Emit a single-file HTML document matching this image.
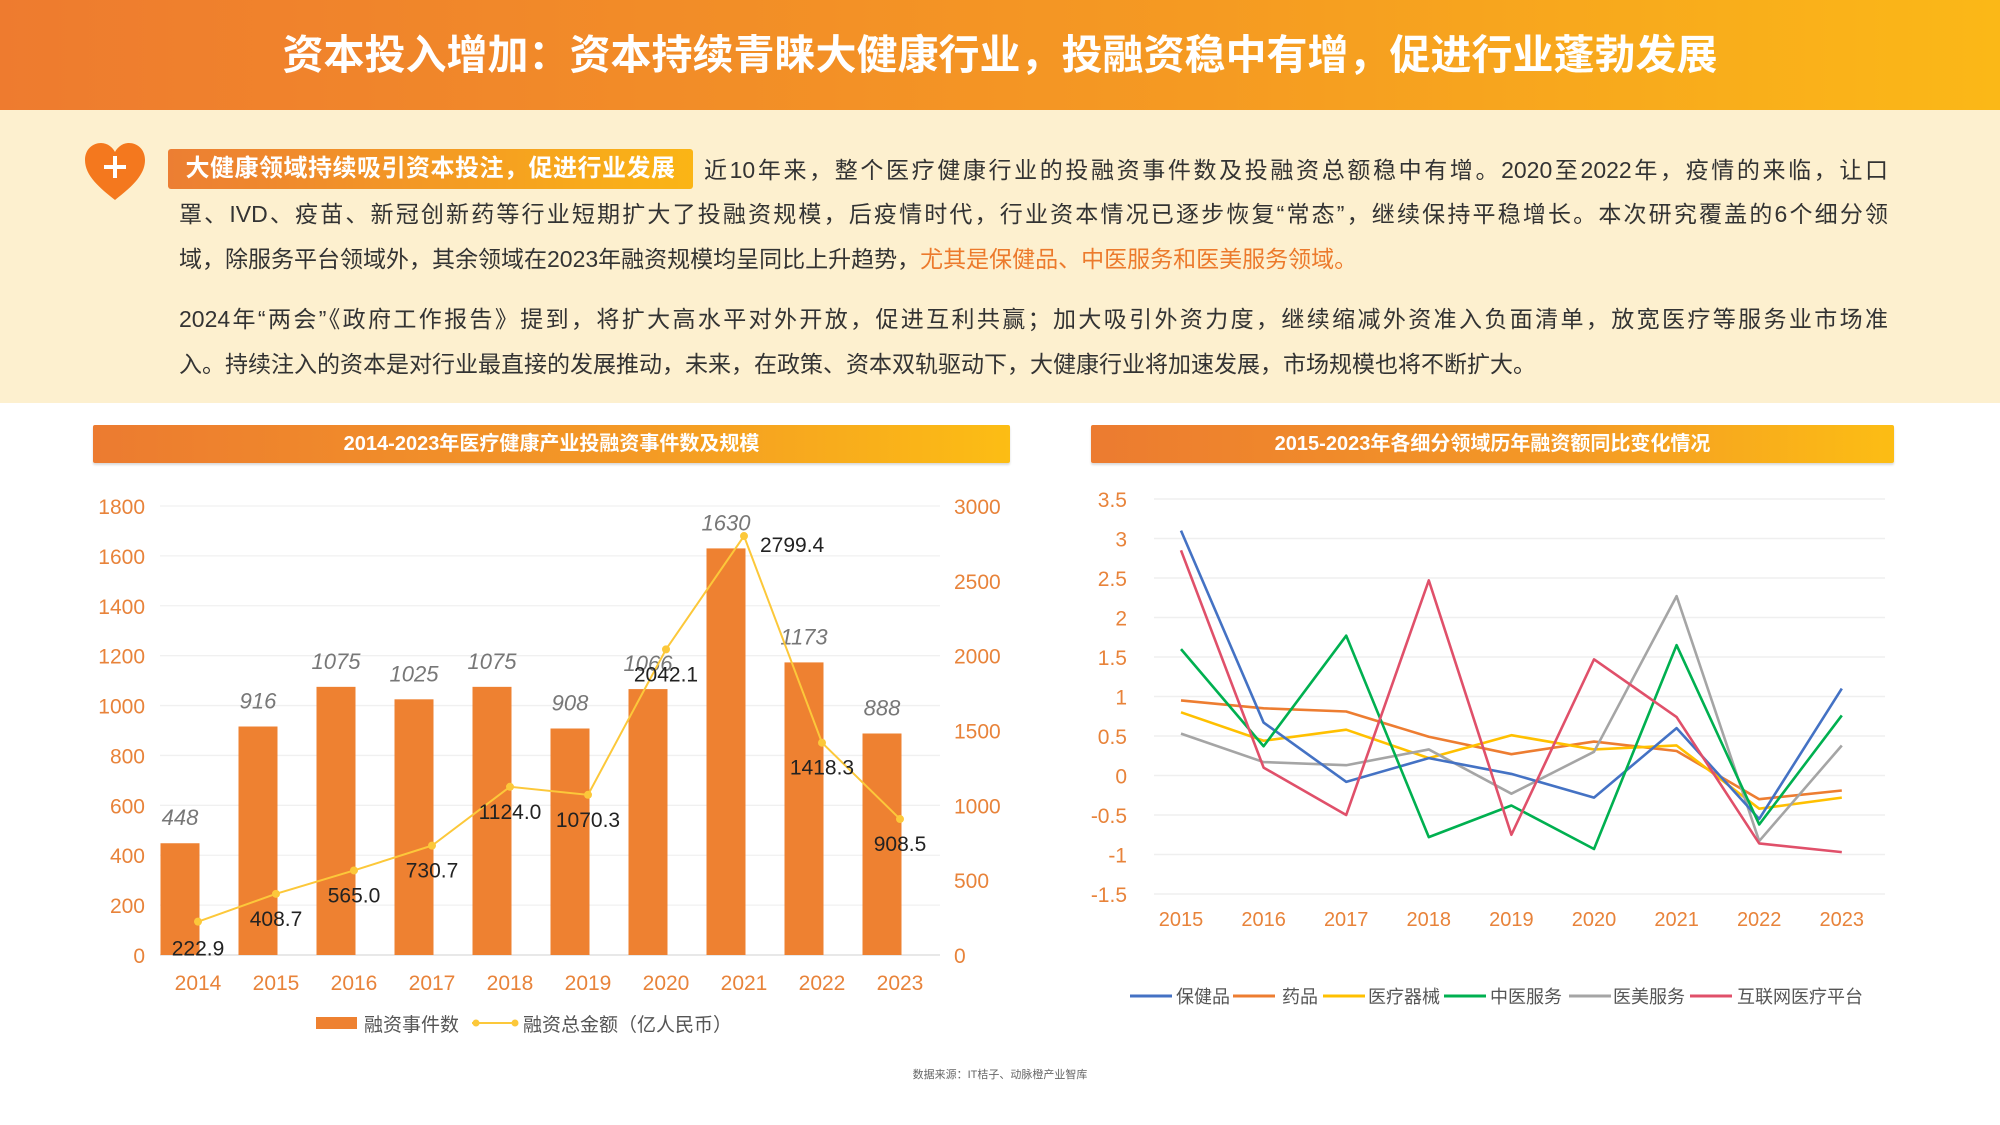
<!DOCTYPE html>
<html><head><meta charset="utf-8">
<style>
*{margin:0;padding:0;box-sizing:border-box}
body{width:2000px;height:1125px;position:relative;background:#fff;font-family:"Liberation Sans","Noto Sans CJK SC",sans-serif;overflow:hidden}
.hdr{position:absolute;left:0;top:0;width:2000px;height:110px;background:linear-gradient(90deg,#ee7b2f,#f59a22 60%,#fbb817);color:#fff;font-size:41px;font-weight:bold;text-align:center;line-height:110px}
.band{position:absolute;left:0;top:110px;width:2000px;height:293px;background:#fdf0cf}
.ln{position:absolute;font-size:23px;color:#333;white-space:nowrap;height:30px;line-height:30px}
.j{text-align:justify;text-align-last:justify;white-space:normal;overflow:hidden}
.tag{position:absolute;left:168px;top:149px;width:525px;height:40px;background:linear-gradient(90deg,#ec7e33,#fbb515);color:#fff;font-size:24px;font-weight:bold;line-height:40px;text-align:center;border-radius:3px;letter-spacing:0.5px}
.ctitle{position:absolute;height:38px;line-height:38px;color:#fff;font-weight:bold;font-size:20px;text-align:center;background:linear-gradient(90deg,#ec7b30,#f49a25 60%,#fcbd14);border-radius:2px;box-shadow:0 2px 2px rgba(0,0,0,.15)}
.hl{color:#ec7a2c}
</style></head><body>
<div class="hdr">资本投入增加：资本持续青睐大健康行业，投融资稳中有增，促进行业蓬勃发展</div>
<div class="band"></div>
<svg style="position:absolute;left:82px;top:140px" width="66" height="62" viewBox="0 0 66 62">
<path d="M33 60 C18 48 3 36 3 20 C3 9 11 3 19 3 C26 3 31 8 33 12 C35 8 40 3 47 3 C55 3 63 9 63 20 C63 36 48 48 33 60Z" fill="#f4781e"/>
<path d="M33 16 V38 M22 27 H44" stroke="#fff" stroke-width="4"/>
</svg>
<div class="tag">大健康领域持续吸引资本投注，促进行业发展</div>
<div class="ln j" style="left:704px;top:155px;width:1184px">近10年来，整个医疗健康行业的投融资事件数及投融资总额稳中有增。2020至2022年，疫情的来临，让口</div>
<div class="ln j" style="left:179px;top:199px;width:1709px">罩、IVD、疫苗、新冠创新药等行业短期扩大了投融资规模，后疫情时代，行业资本情况已逐步恢复“常态”，继续保持平稳增长。本次研究覆盖的6个细分领</div>
<div class="ln" style="left:179px;top:244px">域，除服务平台领域外，其余领域在2023年融资规模均呈同比上升趋势，<span class="hl">尤其是保健品、中医服务和医美服务领域。</span></div>
<div class="ln j" style="left:179px;top:304px;width:1709px">2024年“两会”《政府工作报告》提到，将扩大高水平对外开放，促进互利共赢；加大吸引外资力度，继续缩减外资准入负面清单，放宽医疗等服务业市场准</div>
<div class="ln" style="left:179px;top:349px">入。持续注入的资本是对行业最直接的发展推动，未来，在政策、资本双轨驱动下，大健康行业将加速发展，市场规模也将不断扩大。</div>

<div class="ctitle" style="left:93px;top:425px;width:917px">2014-2023年医疗健康产业投融资事件数及规模</div>
<div class="ctitle" style="left:1091px;top:425px;width:803px">2015-2023年各细分领域历年融资额同比变化情况</div>

<svg id="c1" style="position:absolute;left:0;top:0" width="2000" height="1125"></svg>
<div style="position:absolute;left:0;top:1066px;width:2000px;text-align:center;font-size:11px;color:#666">数据来源：IT桔子、动脉橙产业智库</div>

<script>
const years1 = ["2014","2015","2016","2017","2018","2019","2020","2021","2022","2023"];
const events = [448,916,1075,1025,1075,908,1066,1630,1173,888];
const amounts = [222.9,408.7,565.0,730.7,1124.0,1070.3,2042.1,2799.4,1418.3,908.5];
const leftTicks = [0,200,400,600,800,1000,1200,1400,1600,1800];
const rightTicks = [0,500,1000,1500,2000,2500,3000];

const years2 = ["2015","2016","2017","2018","2019","2020","2021","2022","2023"];
const sBaojian = [3.1,0.67,-0.08,0.22,0.02,-0.28,0.6,-0.55,1.1];
const sYaopin = [0.95,0.85,0.81,0.49,0.27,0.43,0.31,-0.3,-0.19];
const sQixie = [0.8,0.44,0.58,0.22,0.51,0.33,0.38,-0.42,-0.28];
const sZhongyi = [1.6,0.37,1.77,-0.78,-0.38,-0.93,1.65,-0.62,0.76];
const sYimei = [0.53,0.17,0.13,0.33,-0.23,0.3,2.27,-0.83,0.38];
const sHulian = [2.85,0.1,-0.5,2.47,-0.75,1.47,0.74,-0.86,-0.97];
const seriesNames = ["保健品","药品","医疗器械","中医服务","医美服务","互联网医疗平台"];
const yTicks2 = [3.5,3,2.5,2,1.5,1,0.5,0,-0.5,-1,-1.5];

const NS="http://www.w3.org/2000/svg";
const svg=document.getElementById('c1');
function mk(tag,attrs,parent){const e=document.createElementNS(NS,tag);for(const k in attrs)e.setAttribute(k,attrs[k]);(parent||svg).appendChild(e);return e;}
function txt(x,y,s,attrs){const e=mk('text',Object.assign({x:x,y:y},attrs));e.textContent=s;return e;}

const yL=v=>955-v/1800*449;
const yR=v=>955-v/3000*449;
const xC=i=>198+i*78;
const barOff=-18;
leftTicks.forEach(t=>{
  const g=mk('line',{x1:160,x2:940,y1:yL(t),y2:yL(t),stroke:t===0?'#d9d9d9':'#f0f0f0','stroke-width':1.3});
  
  
  const l=txt(145,yL(t)+8,String(t),{'text-anchor':'end','font-size':21,fill:'#e8833a'});
  
  
});
rightTicks.forEach(t=>{
  const l=txt(954,yR(t)+8,String(t),{'font-size':21,fill:'#e8833a'});
  
  
});
events.forEach((v,i)=>{
  const b=mk('rect',{x:xC(i)+barOff-19.5,y:yL(v),width:39,height:955-yL(v),fill:'#ee8131'});
  
  
  const l=txt(xC(i)+barOff,yL(v)-18,String(v),{'text-anchor':'middle','font-size':22,'font-style':'italic',fill:'#777'});
  
  
  const xl=txt(xC(i),990,years1[i],{'text-anchor':'middle','font-size':21,fill:'#e8833a'});
  
  
});
const pl=mk('polyline',{points:amounts.map((v,i)=>xC(i)+','+yR(v)).join(' '),fill:'none',stroke:'#fcc83a','stroke-width':2});


amounts.forEach((v,i)=>{
  const c=mk('circle',{cx:xC(i),cy:yR(v),r:4,fill:'#fcc83a'});
  
  
  let dx=0,dy=32,anc='middle';
  if(i===0){dy=34;}
  if(i===7){dx=16;dy=16;anc='start';}
  const l=txt(xC(i)+dx,yR(v)+dy,v.toFixed(1),{'text-anchor':anc,'font-size':21,fill:'#222'});
  
  
});
mk('rect',{x:316,y:1017,width:41,height:12,fill:'#ee8131'});
txt(364,1031,'融资事件数',{'font-size':19,fill:'#555'});
mk('line',{x1:472,x2:517,y1:1023,y2:1023,stroke:'#fcc83a','stroke-width':2});
mk('circle',{cx:476,cy:1023,r:3.5,fill:'#fcc83a'});
mk('circle',{cx:515,cy:1023,r:3.5,fill:'#fcc83a'});
txt(523,1031,'融资总金额（亿人民币）',{'font-size':19,fill:'#555'});

const y2=v=>499+(3.5-v)/5*395;
const x2=i=>1181+i*82.6;
yTicks2.forEach(t=>{
  const g=mk('line',{x1:1154,x2:1885,y1:y2(t),y2:y2(t),stroke:'#efefef','stroke-width':1.5});
  
  
  const l=txt(1127,y2(t)+8,String(t),{'text-anchor':'end','font-size':21,fill:'#e8833a'});
  
  
});
years2.forEach((y,i)=>{
  const l=txt(x2(i),926,y,{'text-anchor':'middle','font-size':20,fill:'#e8833a'});
  
  
});
const allSeries=[sBaojian,sYaopin,sQixie,sZhongyi,sYimei,sHulian];
const colors=['#4472c4','#ed7d31','#ffc000','#00b050','#a5a5a5','#e0506a'];
[1,2,4,0,3,5].forEach(k=>{
  const p=mk('polyline',{points:allSeries[k].map((v,i)=>x2(i)+','+y2(v)).join(' '),fill:'none',stroke:colors[k],'stroke-width':2.6,'stroke-linejoin':'round'});
  
  
});
const legLineX=[1130,1233,1323,1444,1569,1690];
const legTextX=[1176,1282,1368,1490,1613,1737];
seriesNames.forEach((n,k)=>{
  mk('line',{x1:legLineX[k],x2:legLineX[k]+42,y1:996,y2:996,stroke:colors[k],'stroke-width':3});
  const l=txt(legTextX[k],1003,n,{'font-size':18,fill:'#555'});
  
  
});
</script>
</body></html>
